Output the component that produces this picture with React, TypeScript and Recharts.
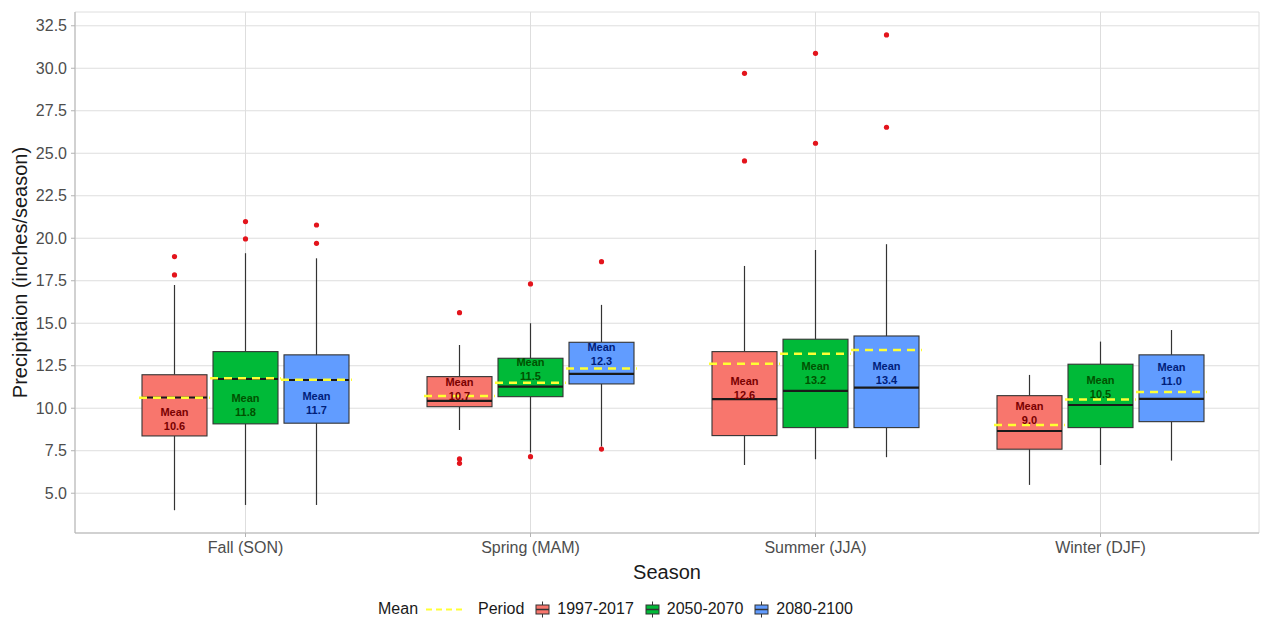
import React from "react";
import { ComposedChart, Bar, XAxis, YAxis, CartesianGrid } from "recharts";

const seasons = ["Fall (SON)", "Spring (MAM)", "Summer (JJA)", "Winter (DJF)"];
const periods = ["1997-2017", "2050-2070", "2080-2100"];
const yTicks = [5, 7.5, 10, 12.5, 15, 17.5, 20, 22.5, 25, 27.5, 30, 32.5];

// per season: [lower whisker, Q1, median, Q3, upper whisker, mean]
const stats1997 = [
  [4.0, 8.37, 10.63, 11.97, 17.25, 10.62],
  [8.72, 10.09, 10.43, 11.86, 13.72, 10.72],
  [6.66, 8.39, 10.53, 13.33, 18.37, 12.62],
  [5.49, 7.59, 8.66, 10.74, 11.96, 9.02],
];
const stats2050 = [
  [4.31, 9.08, 11.72, 13.33, 19.12, 11.76],
  [7.4, 10.68, 11.27, 12.94, 15.0, 11.5],
  [7.0, 8.86, 11.02, 14.06, 19.31, 13.2],
  [6.66, 8.86, 10.19, 12.59, 13.92, 10.52],
];
const stats2080 = [
  [4.31, 9.12, 11.66, 13.14, 18.82, 11.68],
  [7.75, 11.43, 12.02, 13.88, 16.08, 12.34],
  [7.12, 8.86, 11.21, 14.25, 19.65, 13.42],
  [6.92, 9.21, 10.55, 13.14, 14.6, 10.96],
];

const outliers1997 = [[17.84, 18.92], [15.62, 7.02, 6.76], [24.55, 29.7], []];
const outliers2050 = [[19.96, 20.98], [17.31, 7.15], [25.59, 30.88], []];
const outliers2080 = [[19.7, 20.78], [18.62, 7.6], [26.53, 31.96], []];

// value (inches) at which the "Mean" annotation is centred
const labelAt1997 = [9.35, 11.15, 11.2, 9.74];
const labelAt2050 = [10.21, 12.3, 12.08, 11.27];
const labelAt2080 = [10.29, 13.2, 12.08, 12.0];

const allStats = [stats1997, stats2050, stats2080];
const allOutliers = [outliers1997, outliers2050, outliers2080];
const allLabelAt = [labelAt1997, labelAt2050, labelAt2080];

const fills = ["#F8766D", "#00BA38", "#619CFF"];
const textColors = ["#7a0000", "#005200", "#00207a"];
const FONT = "'Liberation Sans', Arial, Helvetica, sans-serif";

const data = seasons.map((season, i) => {
  const row: any = { season };
  periods.forEach((_, p) => {
    const s = allStats[p][i];
    row["r" + p] = [s[0], s[4]];
    row["s" + p] = s;
    row["o" + p] = allOutliers[p][i];
    row["l" + p] = allLabelAt[p][i];
  });
  return row;
});

const makeShape = (p: number) => (props: any) => {
  const { x, y, width, height, payload } = props;
  if (x == null || y == null || !payload) return <g />;
  const s: number[] = payload["s" + p];
  const outs: number[] = payload["o" + p];
  const labelAt: number = payload["l" + p];
  const top = Math.min(y, y + height);
  const h = Math.abs(height);
  const k = h / (s[4] - s[0]);
  const Y = (v: number) => top + (s[4] - v) * k;
  const cx = x + width / 2;
  const ly = Y(labelAt);
  return (
    <g>
      <line x1={cx} x2={cx} y1={Y(s[4])} y2={Y(s[3])} stroke="#333333" strokeWidth={1.2} />
      <line x1={cx} x2={cx} y1={Y(s[1])} y2={Y(s[0])} stroke="#333333" strokeWidth={1.2} />
      <rect x={x} y={Y(s[3])} width={width} height={Y(s[1]) - Y(s[3])} fill={fills[p]} stroke="#333333" strokeWidth={1.1} />
      <line x1={x} x2={x + width} y1={Y(s[2])} y2={Y(s[2])} stroke="#1a1a1a" strokeWidth={2.2} />
      <line x1={x - 3} x2={x + width + 3} y1={Y(s[5])} y2={Y(s[5])} stroke="#FFFF33" strokeWidth={2.5} strokeDasharray="8 6" />
      {outs.map((v, j) => (
        <circle key={j} cx={cx} cy={Y(v)} r={2.6} fill="#E3141C" />
      ))}
      <text x={cx} y={ly} textAnchor="middle" fontFamily={FONT} fontWeight="bold" fontSize={11} fill={textColors[p]}>
        <tspan x={cx} y={ly - 3}>Mean</tspan>
        <tspan x={cx} y={ly + 11}>{s[5].toFixed(1)}</tspan>
      </text>
    </g>
  );
};

const BoxIcon = ({ color }: { color: string }) => (
  <svg width={17} height={17} style={{ display: "block" }}>
    <line x1={8.5} x2={8.5} y1={0.5} y2={16.5} stroke="#333" strokeWidth={1} />
    <rect x={2} y={4} width={13} height={9} fill={color} stroke="#333" strokeWidth={1} />
    <line x1={2} x2={15} y1={8.5} y2={8.5} stroke="#333" strokeWidth={1.5} />
  </svg>
);

const legendText: React.CSSProperties = { fontFamily: FONT, fontSize: 16, color: "#1a1a1a", whiteSpace: "nowrap" };

export default function App() {
  return (
    <div style={{ position: "absolute", left: 0, top: 0, width: 1270, height: 622, background: "#fff" }}>
      <ComposedChart
        width={1270}
        height={622}
        data={data}
        margin={{ top: 12, right: 11, left: 0, bottom: 29 }}
        barSize={65}
        barGap={6}
      >
        <CartesianGrid stroke="#DEDEDE" strokeWidth={1} />
        <XAxis
          dataKey="season"
          type="category"
          height={60}
          padding={{ left: 28, right: 16 }}
          tickLine={{ stroke: "#B3B3B3" }}
          tickSize={4}
          tickMargin={5}
          axisLine={{ stroke: "#B3B3B3" }}
          tick={{ fill: "#4D4D4D", fontSize: 16, fontFamily: FONT }}
          label={{
            content: (lp: any) => {
              const vb = lp.viewBox || {};
              return (
                <text x={vb.x + vb.width / 2} y={579} textAnchor="middle" fontFamily={FONT} fontSize={20} fill="#1a1a1a">
                  Season
                </text>
              );
            },
          }}
        />
        <XAxis xAxisId="top" orientation="top" dataKey="season" height={0} tick={false} tickLine={false} axisLine={{ stroke: "#B3B3B3" }} />
        <YAxis
          type="number"
          width={75}
          domain={[2.66, 33.31]}
          ticks={yTicks}
          allowDataOverflow
          tickFormatter={(v: number) => v.toFixed(1)}
          tickLine={{ stroke: "#B3B3B3" }}
          tickSize={4}
          tickMargin={4}
          axisLine={{ stroke: "#B3B3B3" }}
          tick={{ fill: "#4D4D4D", fontSize: 16, fontFamily: FONT }}
          label={{
            content: (lp: any) => {
              const vb = lp.viewBox || {};
              const cy = vb.y + vb.height / 2;
              return (
                <text x={27} y={cy} transform={`rotate(-90 27 ${cy})`} textAnchor="middle" fontFamily={FONT} fontSize={20} fill="#1a1a1a">
                  Precipitaion (inches/season)
                </text>
              );
            },
          }}
        />
        <YAxis yAxisId="right" orientation="right" width={0} domain={[2.66, 33.31]} tick={false} tickLine={false} axisLine={{ stroke: "#B3B3B3" }} />
        {periods.map((pname, p) => (
          <Bar key={pname} dataKey={"r" + p} name={pname} fill={fills[p]} shape={makeShape(p)} isAnimationActive={false} />
        ))}
      </ComposedChart>
      <div style={{ position: "absolute", top: 600, left: 378, display: "flex", alignItems: "center", height: 18 }}>
        <span style={legendText}>Mean</span>
        <svg width={44} height={17} style={{ display: "block", marginLeft: 6 }}>
          <line x1={2} x2={42} y1={8.5} y2={8.5} stroke="#FFFF33" strokeWidth={2} strokeDasharray="6 4" />
        </svg>
        <span style={{ ...legendText, marginLeft: 10 }}>Period</span>
        {periods.map((pname, p) => (
          <React.Fragment key={pname}>
            <span style={{ marginLeft: 10 }}>
              <BoxIcon color={fills[p]} />
            </span>
            <span style={{ ...legendText, marginLeft: 6 }}>{pname}</span>
          </React.Fragment>
        ))}
      </div>
    </div>
  );
}
